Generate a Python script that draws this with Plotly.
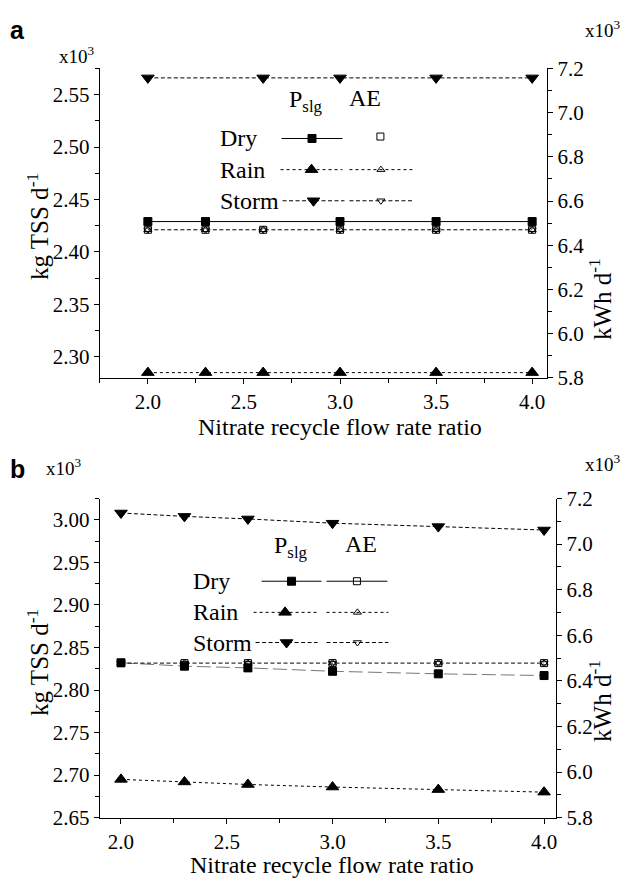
import plotly.graph_objects as go

# Nitrate recycle flow rate ratio
ratio = [2.0, 2.3, 2.6, 3.0, 3.5, 4.0]

# Panel a: sludge production (kg TSS/d, x10^3) and aeration energy (kWh/d, x10^3)
a_pslg_dry = [2.429, 2.429, None, 2.429, 2.429, 2.429]
a_pslg_rain = [2.285, 2.285, 2.285, 2.285, 2.285, 2.285]
a_pslg_storm = [2.566, None, 2.566, 2.566, 2.566, 2.566]
a_ae_dry = [6.47, 6.47, 6.47, 6.47, 6.47, 6.47]
a_ae_rain = [6.47, 6.47, 6.47, 6.47, 6.47, 6.47]
a_ae_storm = [6.47, 6.47, 6.47, 6.47, 6.47, 6.47]

# Panel b
b_pslg_dry = [2.832, 2.828, 2.826, 2.822, 2.819, 2.817]
b_pslg_rain = [2.695, 2.692, 2.689, 2.686, 2.683, 2.680]
b_pslg_storm = [3.008, 3.004, 3.001, 2.996, 2.992, 2.988]
b_ae_dry = [6.478, 6.478, 6.478, 6.478, 6.478, 6.478]
b_ae_rain = [6.478, 6.478, 6.478, 6.478, 6.478, 6.478]
b_ae_storm = [6.478, 6.478, 6.478, 6.478, 6.478, 6.478]

W, H = 631, 890
SERIF = "Liberation Serif, Times New Roman, DejaVu Serif, serif"
SANS = "Liberation Sans, Arial, sans-serif"
BLACK = "#000000"

DASH = "4px,2.5px"
LONGDASH = "14px,5px"

fig = go.Figure()


def px(x):
    return x / W


def py(y):
    return 1 - y / H


def add_series(x, y, xa, ya, dash, symbol, size, color=BLACK, mode="lines+markers",
               lw=1.0, mline=1.0):
    fig.add_trace(go.Scatter(
        x=x, y=y, xaxis=xa, yaxis=ya, mode=mode, connectgaps=True,
        line=dict(color=color, width=lw, dash=dash),
        marker=dict(symbol=symbol, size=size, color=BLACK,
                    line=dict(color=BLACK, width=mline)),
        showlegend=False, hoverinfo="skip"))


# ---- panel a ----  (AE series coincide; the storm dashed line is the one seen)
add_series(ratio, a_ae_dry, "x", "y2", "solid", "square-open", 7, mode="markers")
add_series(ratio, a_ae_rain, "x", "y2", "dot", "triangle-up-open", 7, mode="markers")
add_series(ratio, a_ae_storm, "x", "y2", DASH, "triangle-down-open", 7)
add_series(ratio, a_pslg_dry, "x", "y", "solid", "square", 8)
add_series(ratio, a_pslg_rain, "x", "y", "dot", "triangle-up", 11)
add_series(ratio, a_pslg_storm, "x", "y", DASH, "triangle-down", 11)

# ---- panel b ----
add_series(ratio, b_pslg_dry, "x2", "y3", LONGDASH, "square", 8, color="#777777")
add_series(ratio, b_pslg_rain, "x2", "y3", "dot", "triangle-up", 11)
add_series(ratio, b_pslg_storm, "x2", "y3", DASH, "triangle-down", 11)
add_series(ratio, b_ae_dry, "x2", "y4", "solid", "square-open", 7, mode="markers")
add_series(ratio, b_ae_rain, "x2", "y4", "dot", "triangle-up-open", 7, mode="markers")
add_series(ratio, b_ae_storm, "x2", "y4", DASH, "triangle-down-open", 7)


# ---- legend keys, drawn on a full-page pixel axis ----
def key(x0, x1, y, dash, symbol, size, color=BLACK, line=True):
    xm = (x0 + x1) / 2
    if line:
        fig.add_trace(go.Scatter(
            x=[x0, x1], y=[y, y], xaxis="x3", yaxis="y5", mode="lines",
            line=dict(color=color, width=1, dash=dash),
            showlegend=False, hoverinfo="skip"))
    fig.add_trace(go.Scatter(
        x=[xm], y=[y], xaxis="x3", yaxis="y5", mode="markers",
        marker=dict(symbol=symbol, size=size, color=BLACK,
                    line=dict(color=BLACK, width=1)),
        showlegend=False, hoverinfo="skip"))


annotations = []


def text(x, y, s, size=24, xanchor="center", family=SERIF, angle=0):
    annotations.append(dict(
        x=px(x), y=py(y), xref="paper", yref="paper", text=s, showarrow=False,
        xanchor=xanchor, yanchor="middle", textangle=angle,
        font=dict(family=family, size=size, color=BLACK)))


# panel a legend
text(306, 91, "P<sub>slg</sub>", 24)
text(366, 88, "AE", 24)
rows_a = [130, 162, 194]
text(218, rows_a[0], "Dry", 24, "left")
text(218, rows_a[1], "Rain", 24, "left")
text(218, rows_a[2], "Storm", 24, "left")
key(282, 343, rows_a[0], "solid", "square", 8)
key(350, 412, rows_a[0] - 2, "solid", "square-open", 7, line=False)
key(281, 343, rows_a[1], "dot", "triangle-up", 11)
key(350, 413, rows_a[1], "dot", "triangle-up-open", 7)
key(283, 345, rows_a[2], DASH, "triangle-down", 11)
key(350, 413, rows_a[2], DASH, "triangle-down-open", 7)

# panel b legend
text(291, 550, "P<sub>slg</sub>", 24)
text(362, 547, "AE", 24)
rows_b = [585, 617, 648]
text(191, rows_b[0], "Dry", 24, "left")
text(191, rows_b[1], "Rain", 24, "left")
text(191, rows_b[2], "Storm", 24, "left")
key(262, 322, rows_b[0], "solid", "square", 8)
key(327, 388, rows_b[0], "solid", "square-open", 7)
key(254, 317, rows_b[1], "dot", "triangle-up", 11)
key(327, 389, rows_b[1], "dot", "triangle-up-open", 7)
key(256, 318, rows_b[2], DASH, "triangle-down", 11)
key(327, 389, rows_b[2], DASH, "triangle-down-open", 7)

# panel letters and multipliers
text(18, 18, "<b>a</b>", 25, family=SANS)
text(18, 470, "<b>b</b>", 25, family=SANS)
text(77, 44, "x10<sup>3</sup>", 19)
text(604, 17, "x10<sup>3</sup>", 19)
text(64, 468, "x10<sup>3</sup>", 19)
text(604, 463, "x10<sup>3</sup>", 19)

# axis titles
text(341, 426, "Nitrate recycle flow rate ratio", 24)
text(333, 877, "Nitrate recycle flow rate ratio", 24)
text(38, 220, "kg TSS d<sup>-1</sup>", 25, angle=-90)
text(38, 668, "kg TSS d<sup>-1</sup>", 25, angle=-90)
text(601, 295, "kWh d<sup>-1</sup>", 25, angle=-90)
text(601, 708, "kWh d<sup>-1</sup>", 25, angle=-90)

# ---- axes ----
tickfont = dict(family=SERIF, size=21, color=BLACK)


def xaxis(dom, rng, anchor):
    return dict(domain=dom, range=rng, anchor=anchor, showgrid=False, zeroline=False,
                showline=True, linecolor=BLACK, linewidth=1.2, ticks="outside",
                ticklen=5, tickcolor=BLACK, tickwidth=1, tickvals=[2.0, 2.5, 3.0, 3.5, 4.0],
                tickformat=".1f", tickfont=tickfont,
                minor=dict(ticks="outside", ticklen=4, tickvals=[1.75, 2.25, 2.75, 3.25, 3.75],
                           tickcolor=BLACK))


def yaxis(dom, rng, anchor, dtick, fmt, minor, side="left", overlaying=None):
    d = dict(domain=dom, range=rng, anchor=anchor, side=side, showgrid=False,
             zeroline=False, showline=True, linecolor=BLACK, linewidth=1.2,
             ticks="outside", ticklen=5, tickcolor=BLACK, tickwidth=1, dtick=dtick,
             tickformat=fmt, tickfont=tickfont,
             minor=dict(ticks="outside", ticklen=4, dtick=minor, tickcolor=BLACK))
    if overlaying:
        d["overlaying"] = overlaying
    return d


xa_dom = [px(100), px(548)]
xb_dom = [px(100), px(557)]
ya_dom = [py(376), py(58)]
yb_dom = [py(828), py(500)]

fig.update_layout(
    width=W, height=H, autosize=False,
    margin=dict(l=0, r=0, t=0, b=0),
    paper_bgcolor="white", plot_bgcolor="rgba(0,0,0,0)",
    showlegend=False,
    font=dict(family=SERIF, color=BLACK),
    xaxis=xaxis(xa_dom, [1.75, 4.078], "y"),
    yaxis=yaxis(ya_dom, [2.28, 2.575], "x", 0.05, ".2f", 0.025),
    yaxis2=yaxis(ya_dom, [5.8, 7.2], "x", 0.2, ".1f", 0.1, side="right", overlaying="y"),
    xaxis2=xaxis(xb_dom, [1.9, 4.057], "y3"),
    yaxis3=yaxis(yb_dom, [2.65, 3.025], "x2", 0.05, ".2f", 0.025),
    yaxis4=yaxis(yb_dom, [5.8, 7.2], "x2", 0.2, ".1f", 0.1, side="right", overlaying="y3"),
    xaxis3=dict(domain=[0, 1], range=[0, W], visible=False, anchor="y5", fixedrange=True),
    yaxis5=dict(domain=[0, 1], range=[H, 0], visible=False, anchor="x3", fixedrange=True),
    annotations=annotations,
)

fig.write_html("out.html")
